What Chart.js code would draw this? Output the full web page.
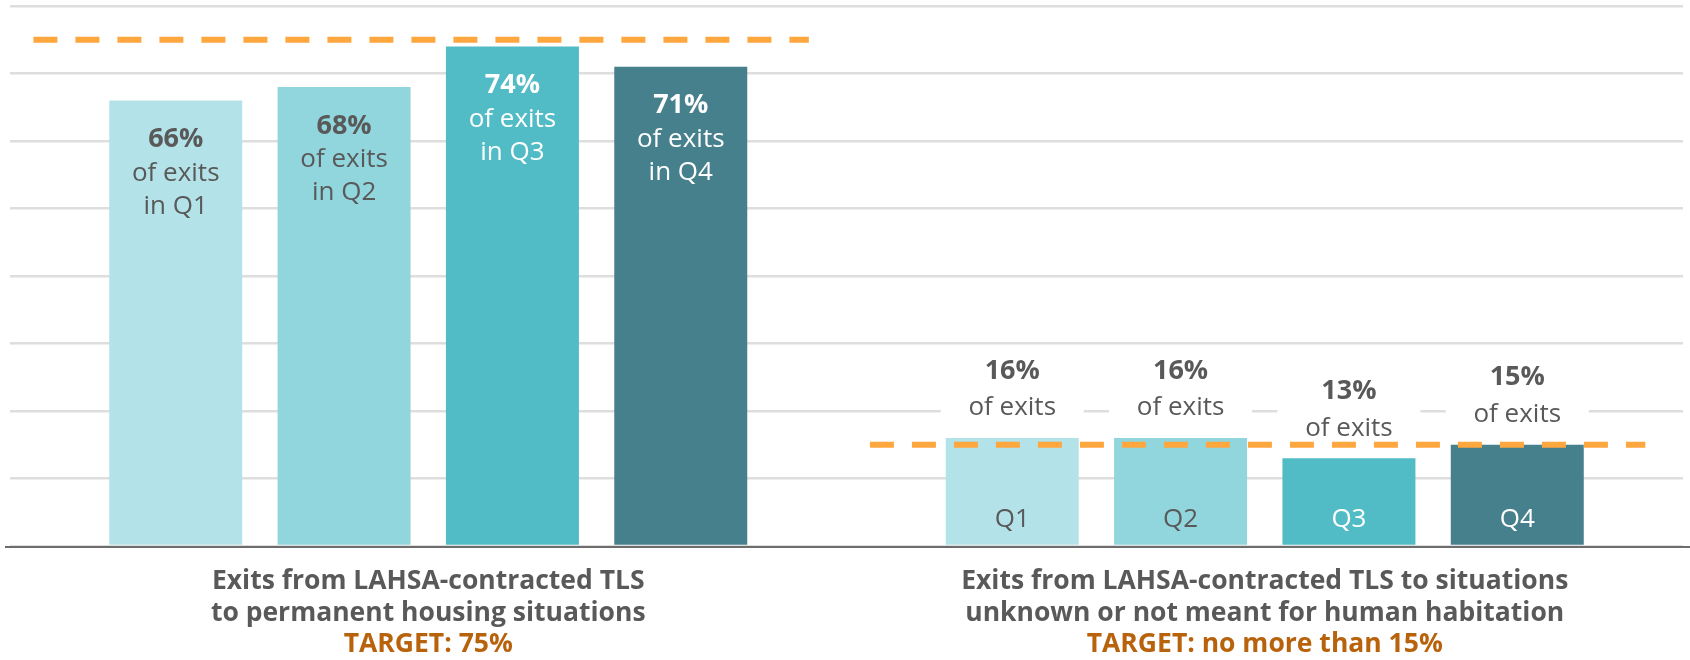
<!DOCTYPE html>
<html>
<head>
<meta charset="utf-8">
<script src="https://cdn.jsdelivr.net/npm/chart.js@4/dist/chart.umd.min.js"></script>
<style>
    html, body { margin: 0; padding: 0; background: #fff; }
    #wrap { width: 1690px; height: 660px; position: relative; }
</style>
</head>
<body>
<div id="wrap"><canvas id="exitsChart"></canvas></div>
<script>
// Categories (two measures) and quarterly values, in percent
const measures = [
    ['Exits from LAHSA-contracted TLS', 'to permanent housing situations'],
    ['Exits from LAHSA-contracted TLS to situations', 'unknown or not meant for human habitation']
];
const targetText = ['TARGET: 75%', 'TARGET: no more than 15%'];
const targets = [75, 15];
const quarters = ['Q1', 'Q2', 'Q3', 'Q4'];
const q1Values = [66, 16];
const q2Values = [68, 16];
const q3Values = [74, 13];
const q4Values = [71, 15];
const yTicks = [0, 10, 20, 30, 40, 50, 60, 70, 80];

// --------------------------------------------------------------------------

const barColors = ['#b3e3e8', '#91d6dd', '#51bbc6', '#46808c'];
const labelColors = ['#595959', '#595959', '#ffffff', '#ffffff'];
const GREY = '#595959';
const FONT = '"Open Sans", "Noto Sans", sans-serif';

const quarterValues = [q1Values, q2Values, q3Values, q4Values];

// Dashed target line for each measure
const targetLines = {
    id: 'targetLines',
    afterDatasetsDraw(chart) {
        const { ctx, scales: { x, y } } = chart;
        const cw = x.getPixelForValue(1) - x.getPixelForValue(0);
        ctx.save();
        ctx.strokeStyle = '#ffa73f';
        ctx.lineWidth = 6;
        ctx.setLineDash([24, 18]);
        targets.forEach((t, i) => {
            const cx = x.getPixelForValue(i);
            const py = y.getPixelForValue(t);
            ctx.beginPath();
            ctx.moveTo(cx - 0.472 * cw, py);
            ctx.lineTo(cx + 0.455 * cw, py);
            ctx.stroke();
        });
        ctx.restore();
    }
};

// Value labels on / above the bars
const barLabels = {
    id: 'barLabels',
    afterDatasetsDraw(chart) {
        const { ctx } = chart;
        ctx.save();
        ctx.textAlign = 'center';
        ctx.textBaseline = 'middle';
        chart.data.datasets.forEach((ds, di) => {
            const meta = chart.getDatasetMeta(di);
            meta.data.forEach((bar, ci) => {
                const v = ds.data[ci];
                if (ci === 0) {
                    // inside the bar
                    ctx.fillStyle = labelColors[di];
                    ctx.font = `bold 27px ${FONT}`;
                    ctx.fillText(v + '%', bar.x, bar.y + 39);
                    ctx.font = `26px ${FONT}`;
                    ctx.fillText('of exits', bar.x, bar.y + 73);
                    ctx.fillText('in ' + quarters[di], bar.x, bar.y + 106);
                } else {
                    // above the bar, on a white patch that breaks the grid line
                    const ly = bar.y - 30;
                    ctx.fillStyle = '#ffffff';
                    ctx.fillRect(bar.x - bar.width / 2 - 5, ly - 21, bar.width + 10, 37);
                    ctx.fillStyle = GREY;
                    ctx.font = `26px ${FONT}`;
                    ctx.fillText('of exits', bar.x, ly);
                    ctx.font = `bold 27px ${FONT}`;
                    ctx.fillText(v + '%', bar.x, ly - 37);
                    ctx.fillStyle = labelColors[di];
                    ctx.font = `26px ${FONT}`;
                    ctx.fillText(quarters[di], bar.x, bar.base - 25);
                }
            });
        });
        ctx.restore();
    }
};

// Baseline and the category captions under the plot
const captions = {
    id: 'captions',
    afterDraw(chart) {
        const { ctx, chartArea, scales: { x } } = chart;
        ctx.save();
        ctx.strokeStyle = '#6d6d6d';
        ctx.lineWidth = 2;
        ctx.beginPath();
        ctx.moveTo(5, chartArea.bottom + 1);
        ctx.lineTo(chart.width, chartArea.bottom + 1);
        ctx.stroke();

        ctx.textAlign = 'center';
        ctx.textBaseline = 'middle';
        ctx.font = `bold 26.5px ${FONT}`;
        measures.forEach((lines, i) => {
            const cx = x.getPixelForValue(i);
            ctx.fillStyle = GREY;
            lines.forEach((l, k) => ctx.fillText(l, cx, chartArea.bottom + 35 + k * 32));
            ctx.fillStyle = '#b8620c';
            ctx.fillText(targetText[i], cx, chartArea.bottom + 98);
        });
        ctx.restore();
    }
};

new Chart(document.getElementById('exitsChart').getContext('2d'), {
    type: 'bar',
    data: {
        labels: measures,
        datasets: quarters.map((q, i) => ({
            label: q,
            data: quarterValues[i],
            backgroundColor: barColors[i],
            barPercentage: 0.79,
            categoryPercentage: 0.805
        }))
    },
    options: {
        responsive: true,
        maintainAspectRatio: false,
        animation: false,
        layout: { padding: { left: 10, right: 7, top: 6, bottom: 114 } },
        plugins: {
            legend: { display: false },
            tooltip: { enabled: false }
        },
        scales: {
            x: { display: false },
            y: {
                min: 0,
                max: 80,
                afterBuildTicks: axis => {
                    axis.ticks = yTicks.map(v => ({ value: v }));
                },
                ticks: { display: false },
                border: { display: false },
                grid: { color: '#dedede', lineWidth: 2.5, drawTicks: false }
            }
        }
    },
    // labels first, so the target dashes stay on top of the white patches
    plugins: [barLabels, targetLines, captions]
});
</script>
</body>
</html>
